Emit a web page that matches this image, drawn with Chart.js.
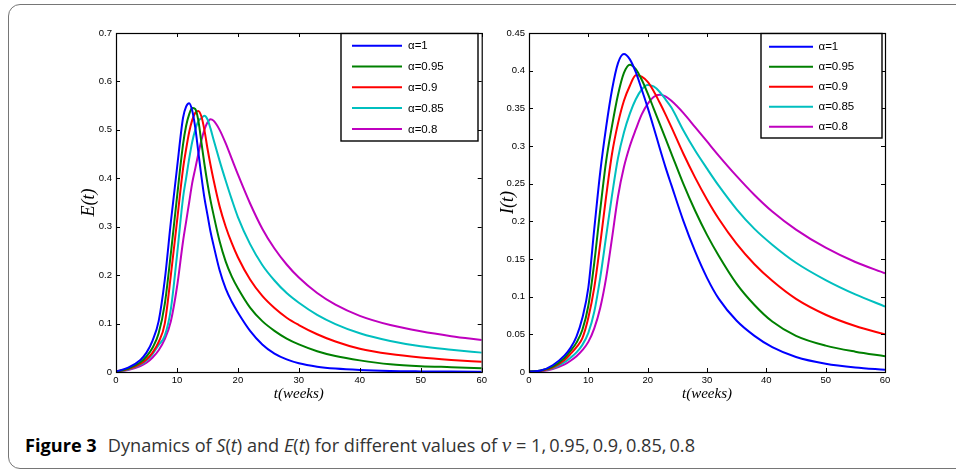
<!DOCTYPE html>
<html>
<head>
<meta charset="utf-8">
<script src="https://cdn.jsdelivr.net/npm/chart.js@4.4.1/dist/chart.umd.min.js"></script>
<style>
  html, body { margin: 0; padding: 0; background: #fff; width: 956px; height: 471px; overflow: hidden; }
  #frame { position: absolute; left: 8px; top: 4px; width: 990px; height: 465px; box-sizing: border-box;
           border: 1.5px solid #767676; border-radius: 12px; }
  #c1 { position: absolute; left: 0; top: 0; }
  #c2 { position: absolute; left: 490px; top: 0; }
  #caption { position: absolute; left: 25px; top: 433px; font-family: "Open Sans", sans-serif; font-size: 18px;
             line-height: 24px; color: #333; white-space: nowrap; transform-origin: 0 0; }
  #caption b { color: #000; margin-right: 11px; }
  #caption .m { font-family: "Liberation Serif", serif; font-size: 21px; }
</style>
</head>
<body>
<div id="frame"></div>
<canvas id="c1" width="490" height="410"></canvas>
<canvas id="c2" width="466" height="410"></canvas>
<div id="caption"><b>Figure 3</b>Dynamics of <i>S</i>(<i>t</i>) and <i>E</i>(<i>t</i>) for different values of <i class="m">ν</i> = 1,&#8201;0.95,&#8201;0.9,&#8201;0.85,&#8201;0.8</div>
<script>
/* DATOS */
const ALPHA_LABELS = ["α=1", "α=0.95", "α=0.9", "α=0.85", "α=0.8"];
const COLORS = ["#0000ff", "#008000", "#ff0000", "#00bfbf", "#bf00bf"];

const WEEK_TICKS = [0, 10, 20, 30, 40, 50, 60];
const E_TICKS = [0, 0.1, 0.2, 0.3, 0.4, 0.5, 0.6, 0.7];
const I_TICKS = [0, 0.05, 0.1, 0.15, 0.2, 0.25, 0.3, 0.35, 0.4, 0.45];

// E(t)
const WEEKS_E = [0, 2, 4, 5, 6, 7, 8, 9, 10, 11, 11.5, 12, 12.5, 13, 13.5, 14, 14.5, 15, 15.5, 16,
  17, 18, 19, 20, 22, 24, 26, 28, 30, 33, 36, 40, 45, 50, 55, 60];
const E_A1 = [0.001, 0.009, 0.025, 0.04, 0.065, 0.105, 0.19, 0.31, 0.42, 0.525,
  0.548, 0.555, 0.54, 0.505, 0.455, 0.405, 0.36, 0.325, 0.29, 0.262,
  0.21, 0.172, 0.145, 0.123, 0.085, 0.057, 0.038, 0.026, 0.018,
  0.011, 0.007, 0.004, 0.002, 0.0012, 0.0008, 0.0005];
const E_A095 = [0.001, 0.007, 0.02, 0.032, 0.05, 0.08, 0.14, 0.245, 0.36, 0.47,
  0.508, 0.532, 0.545, 0.543, 0.52, 0.475, 0.43, 0.39, 0.355, 0.325,
  0.27, 0.228, 0.197, 0.173, 0.133, 0.105, 0.085, 0.069, 0.057,
  0.043, 0.033, 0.024, 0.016, 0.012, 0.01, 0.008];
const E_A09 = [0.001, 0.006, 0.017, 0.026, 0.04, 0.062, 0.1, 0.2, 0.31, 0.42,
  0.46, 0.495, 0.52, 0.535, 0.539, 0.528, 0.5, 0.462, 0.428, 0.397,
  0.342, 0.3, 0.266, 0.237, 0.191, 0.157, 0.132, 0.112, 0.097,
  0.078, 0.063, 0.048, 0.037, 0.03, 0.025, 0.021];
const E_A085 = [0.001, 0.005, 0.015, 0.024, 0.037, 0.056, 0.075, 0.13, 0.24, 0.36,
  0.4, 0.44, 0.475, 0.5, 0.518, 0.524, 0.529, 0.522, 0.503, 0.48,
  0.436, 0.395, 0.356, 0.32, 0.264, 0.221, 0.189, 0.163, 0.143,
  0.118, 0.099, 0.08, 0.064, 0.053, 0.046, 0.04];
const E_A08 = [0.001, 0.004, 0.012, 0.019, 0.03, 0.045, 0.068, 0.105, 0.175, 0.27,
  0.31, 0.35, 0.39, 0.42, 0.45, 0.478, 0.5, 0.515, 0.522, 0.519,
  0.5, 0.472, 0.44, 0.408, 0.348, 0.296, 0.255, 0.222, 0.195,
  0.163, 0.139, 0.116, 0.097, 0.084, 0.074, 0.066];

// I(t)
const WEEKS_I = [0, 2, 4, 6, 7, 8, 9, 10, 11, 12, 13, 14, 15, 16, 17, 18, 19, 20, 21, 22, 23, 24,
  26, 28, 30, 32, 35, 38, 41, 45, 50, 55, 60];
const I_A1 = [0.0005, 0.002, 0.009, 0.022, 0.032, 0.047, 0.072, 0.112, 0.19, 0.265, 0.325, 0.375,
  0.41, 0.422, 0.415, 0.398, 0.375, 0.351, 0.325, 0.298, 0.272, 0.248,
  0.201, 0.16, 0.125, 0.097, 0.068, 0.048, 0.033, 0.02, 0.011, 0.006, 0.003];
const I_A095 = [0.0005, 0.002, 0.007, 0.019, 0.028, 0.039, 0.056, 0.088, 0.145, 0.215, 0.28, 0.327,
  0.368, 0.397, 0.408, 0.402, 0.388, 0.37, 0.35, 0.33, 0.31, 0.29,
  0.25, 0.214, 0.182, 0.154, 0.117, 0.089, 0.067, 0.048, 0.035, 0.027, 0.021];
const I_A09 = [0.0005, 0.0018, 0.006, 0.016, 0.024, 0.033, 0.045, 0.072, 0.112, 0.17, 0.233, 0.29,
  0.33, 0.36, 0.38, 0.394, 0.392, 0.385, 0.373, 0.358, 0.342, 0.325,
  0.29, 0.258, 0.229, 0.203, 0.17, 0.143, 0.121, 0.097, 0.076, 0.061, 0.05];
const I_A085 = [0.0005, 0.0015, 0.005, 0.013, 0.019, 0.026, 0.036, 0.052, 0.08, 0.125, 0.18, 0.235,
  0.284, 0.318, 0.343, 0.362, 0.375, 0.381, 0.379, 0.372, 0.362, 0.351,
  0.321, 0.294, 0.27, 0.247, 0.216, 0.19, 0.169, 0.145, 0.122, 0.103, 0.087];
const I_A08 = [0.0004, 0.001, 0.004, 0.01, 0.015, 0.021, 0.029, 0.04, 0.058, 0.085, 0.125, 0.178,
  0.233, 0.272, 0.3, 0.322, 0.342, 0.356, 0.365, 0.368, 0.366, 0.36,
  0.344, 0.325, 0.306, 0.287, 0.26, 0.235, 0.213, 0.189, 0.165, 0.146, 0.131];

/* PLUGINS */
// marco + ticks hacia adentro (estilo matlab)
const frameTicks = {
  id: "frameTicks",
  afterDatasetsDraw(chart) {
    const { ctx, chartArea: a, scales: { x, y } } = chart;
    ctx.save();
    ctx.strokeStyle = "#000";
    ctx.lineWidth = 1;
    ctx.beginPath();
    x.ticks.forEach(t => {
      const px = Math.round(x.getPixelForValue(t.value)) + 0.5;
      ctx.moveTo(px, a.bottom); ctx.lineTo(px, a.bottom - 4);
      ctx.moveTo(px, a.top); ctx.lineTo(px, a.top + 4);
    });
    y.ticks.forEach(t => {
      const py = Math.round(y.getPixelForValue(t.value)) + 0.5;
      ctx.moveTo(a.left, py); ctx.lineTo(a.left + 4, py);
      ctx.moveTo(a.right, py); ctx.lineTo(a.right - 4, py);
    });
    ctx.stroke();
    ctx.lineWidth = 1.2;
    ctx.strokeRect(a.left + 0.5, a.top + 0.5, a.width, a.height);
    ctx.restore();
  }
};

// leyenda dentro del grafico
const alphaLegend = {
  id: "alphaLegend",
  afterDraw(chart, args, o) {
    const ctx = chart.ctx;
    ctx.save();
    ctx.fillStyle = "#fff";
    ctx.fillRect(o.x, o.y, o.w, o.h);
    ctx.strokeStyle = "#000";
    ctx.lineWidth = 1.4;
    ctx.strokeRect(o.x, o.y, o.w, o.h);
    ctx.font = '11.5px "Liberation Sans", Arial, sans-serif';
    ctx.textBaseline = "middle";
    chart.data.datasets.forEach((ds, i) => {
      const yy = o.row0 + i * o.rowH;
      ctx.strokeStyle = ds.borderColor;
      ctx.lineWidth = 2;
      ctx.beginPath();
      ctx.moveTo(o.x + o.lineL, yy);
      ctx.lineTo(o.x + o.lineR, yy);
      ctx.stroke();
      ctx.fillStyle = "#000";
      ctx.fillText(ds.label, o.x + o.textX, yy + 0.5);
    });
    ctx.restore();
  }
};

/* GRAFICO */
function makeChart(id, weeks, series, yTicks, yTitle, geo) {
  const tickFont = { family: '"Liberation Sans", Arial, sans-serif', size: 9.5 };
  const titleFont = { family: '"Liberation Serif", serif', style: "italic" };
  return new Chart(document.getElementById(id), {
    type: "line",
    data: {
      datasets: series.map((vals, i) => ({
        label: ALPHA_LABELS[i],
        data: weeks.map((t, j) => ({ x: t, y: vals[j] })),
        borderColor: COLORS[i],
        borderWidth: 2,
        pointRadius: 0,
        cubicInterpolationMode: "monotone"
      }))
    },
    options: {
      responsive: false,
      animation: false,
      events: [],
      layout: { padding: { top: 33, right: geo.padRight, left: 0, bottom: 0 } },
      scales: {
        x: {
          type: "linear", min: 0, max: 60,
          afterBuildTicks: s => { s.ticks = WEEK_TICKS.map(v => ({ value: v })); },
          afterFit: s => { s.height = 38; },
          grid: { display: false, drawTicks: false },
          border: { display: false },
          ticks: { font: tickFont, color: "#000", padding: 3, maxRotation: 0, callback: v => String(v) },
          title: { display: true, text: "t(weeks)", color: "#000", font: { ...titleFont, size: 15 },
                   padding: { top: 0, bottom: 7 } }
        },
        y: {
          type: "linear", min: 0, max: yTicks[yTicks.length - 1],
          afterBuildTicks: s => { s.ticks = yTicks.map(v => ({ value: v })); },
          afterFit: s => { s.width = geo.yWidth; },
          grid: { display: false, drawTicks: false },
          border: { display: false },
          ticks: { font: tickFont, color: "#000", padding: 4, callback: v => String(v) },
          title: { display: true, text: yTitle, color: "#000", font: { ...titleFont, size: 18 },
                   padding: { top: geo.yTitlePad, bottom: 0 } }
        }
      },
      plugins: {
        legend: { display: false },
        tooltip: { enabled: false },
        alphaLegend: geo.legend
      }
    },
    plugins: [frameTicks, alphaLegend]
  });
}

makeChart("c1", WEEKS_E, [E_A1, E_A095, E_A09, E_A085, E_A08], E_TICKS, "E(t)", {
  padRight: 8, yWidth: 116, yTitlePad: 78,
  legend: { x: 341, y: 33.5, w: 137, h: 107.5, lineL: 11, lineR: 61, textX: 67, row0: 45.7, rowH: 20.8 }
});

makeChart("c2", WEEKS_I, [I_A1, I_A095, I_A09, I_A085, I_A08], I_TICKS, "I(t)", {
  padRight: 71, yWidth: 39, yTitlePad: 7,
  legend: { x: 271, y: 33.5, w: 121, h: 104.5, lineL: 8, lineR: 52, textX: 57.5, row0: 46.7, rowH: 20 }
});

/* CAPTION: ajustar ancho al original */
const cap = document.getElementById("caption");
cap.style.transform = "scaleX(" + (670 / cap.scrollWidth) + ")";
</script>
</body>
</html>
